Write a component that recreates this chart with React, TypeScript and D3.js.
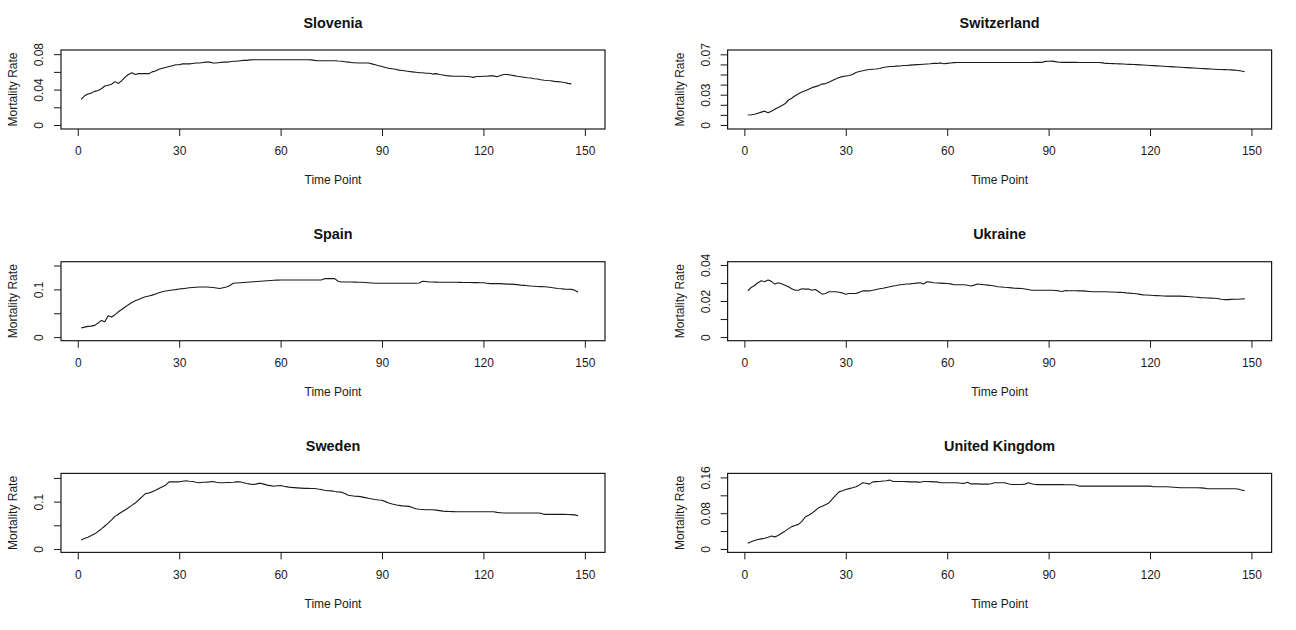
import React, { useEffect, useRef } from 'react';
import * as d3 from 'd3';

const countries = ['Slovenia', 'Switzerland', 'Spain', 'Ukraine', 'Sweden', 'United Kingdom'];

const timeTicks = [0, 30, 60, 90, 120, 150];

const slovenia = [
  0.029, 0.033, 0.035, 0.036, 0.038, 0.039, 0.041, 0.044, 0.045, 0.046,
  0.049, 0.047, 0.05, 0.054, 0.057, 0.059, 0.057, 0.058, 0.058, 0.058,
  0.058, 0.06, 0.061, 0.063, 0.064, 0.065, 0.066, 0.067, 0.068, 0.068,
  0.069, 0.069, 0.069, 0.0695, 0.07, 0.07, 0.0705, 0.071, 0.071, 0.07,
  0.07, 0.0705, 0.071, 0.071, 0.0715, 0.072, 0.072, 0.0725, 0.073, 0.073,
  0.0735, 0.0737, 0.0737, 0.0737, 0.0737, 0.0737, 0.0737, 0.0737, 0.0737, 0.0737,
  0.0737, 0.0737, 0.0737, 0.0737, 0.0737, 0.0737, 0.0737, 0.0737, 0.0735, 0.073,
  0.0725, 0.0725, 0.0725, 0.0725, 0.0725, 0.0725, 0.0722, 0.072, 0.0715, 0.071,
  0.0705, 0.0703, 0.07, 0.07, 0.07, 0.07, 0.069, 0.068, 0.067, 0.066,
  0.065, 0.064, 0.0635, 0.063, 0.062, 0.0615, 0.061, 0.0605, 0.06, 0.0595,
  0.059, 0.059, 0.0585, 0.0585, 0.0575, 0.058, 0.057, 0.0565, 0.0558, 0.0555,
  0.055, 0.055, 0.055, 0.055, 0.0548, 0.0545, 0.0538, 0.0548, 0.0547, 0.055,
  0.055, 0.0555, 0.0555, 0.0545, 0.056, 0.057, 0.057, 0.0565, 0.0558, 0.055,
  0.0545, 0.054, 0.0533, 0.053, 0.0523, 0.052, 0.0512, 0.0505, 0.0502, 0.05,
  0.0493, 0.049, 0.0485, 0.048, 0.047, 0.0465,
];

const switzerland = [
  0.0098, 0.0102, 0.0107, 0.0117, 0.0127, 0.0137, 0.012, 0.0137, 0.0155, 0.0173,
  0.019, 0.021, 0.0245, 0.0265, 0.029, 0.031, 0.0326, 0.034, 0.0355, 0.037,
  0.038, 0.039, 0.0405, 0.041, 0.0423, 0.044, 0.0456, 0.047, 0.0479, 0.0485,
  0.049, 0.05, 0.052, 0.053, 0.0537, 0.0545, 0.055, 0.0552, 0.0554, 0.056,
  0.057, 0.0575, 0.058, 0.058, 0.0583, 0.0585, 0.059, 0.059, 0.0593, 0.0596,
  0.0598, 0.06, 0.0602, 0.0604, 0.0606, 0.061, 0.061, 0.0615, 0.0606, 0.061,
  0.0614, 0.0618, 0.0619, 0.0619, 0.0619, 0.0619, 0.0619, 0.0619, 0.0619, 0.0619,
  0.0619, 0.0619, 0.0619, 0.0619, 0.0619, 0.0619, 0.0619, 0.0619, 0.0619, 0.0619,
  0.0619, 0.0619, 0.0619, 0.0619, 0.0619, 0.062, 0.062, 0.062, 0.063, 0.0632,
  0.0633, 0.0628, 0.0622, 0.062, 0.062, 0.062, 0.062, 0.062, 0.0619, 0.0619,
  0.0619, 0.0619, 0.0619, 0.0619, 0.0619, 0.0615, 0.061, 0.0609, 0.0608, 0.0606,
  0.0605, 0.0604, 0.0602, 0.0601, 0.06, 0.0598, 0.0596, 0.0594, 0.0592, 0.059,
  0.0588, 0.0586, 0.0584, 0.0582, 0.058, 0.0578, 0.0576, 0.0574, 0.0572, 0.057,
  0.0568, 0.0566, 0.0564, 0.0562, 0.056, 0.0558, 0.0556, 0.0554, 0.0552, 0.055,
  0.0549, 0.0548, 0.0547, 0.0546, 0.0544, 0.054, 0.0535, 0.0528,
];

const spain = [
  0.019, 0.021, 0.0225, 0.023, 0.0246, 0.0296, 0.035, 0.032, 0.045, 0.042,
  0.047, 0.053, 0.058, 0.063, 0.068, 0.0725, 0.076, 0.079, 0.082, 0.0845,
  0.086, 0.088, 0.0905, 0.093, 0.095, 0.0965, 0.0975, 0.0986, 0.0995, 0.1007,
  0.1015, 0.1025, 0.1035, 0.104, 0.1045, 0.105, 0.105, 0.105, 0.1045, 0.104,
  0.103, 0.102, 0.1035, 0.105, 0.108, 0.1127, 0.1135, 0.114, 0.1145, 0.115,
  0.1155, 0.116, 0.1165, 0.117, 0.1176, 0.118, 0.1185, 0.119, 0.1193, 0.1197,
  0.1197, 0.1197, 0.1197, 0.1197, 0.1197, 0.1197, 0.1197, 0.1197, 0.1197, 0.1197,
  0.1197, 0.1197, 0.1225, 0.1225, 0.1225, 0.1225, 0.117, 0.1155, 0.1155, 0.1155,
  0.1155, 0.1153, 0.115, 0.1148, 0.1145, 0.114, 0.1135, 0.1127, 0.1127, 0.1127,
  0.1127, 0.1127, 0.1127, 0.1127, 0.1127, 0.1127, 0.1127, 0.1127, 0.1127, 0.1127,
  0.1135, 0.117, 0.1165, 0.1155, 0.1155, 0.1153, 0.115, 0.115, 0.115, 0.115,
  0.115, 0.1148, 0.1146, 0.1145, 0.1144, 0.1143, 0.1142, 0.1141, 0.114, 0.114,
  0.113, 0.112, 0.112, 0.112, 0.112, 0.1115, 0.111, 0.111, 0.1105, 0.11,
  0.109, 0.1085, 0.1077, 0.107, 0.1065, 0.106, 0.1058, 0.1056, 0.105, 0.104,
  0.103, 0.102, 0.1014, 0.1005, 0.1002, 0.1, 0.098, 0.094,
];

const ukraine = [
  0.0256, 0.0275, 0.0286, 0.0301, 0.0312, 0.0307, 0.0316, 0.0309, 0.0294, 0.0301,
  0.0296, 0.0288, 0.0279, 0.0268, 0.026, 0.026, 0.0268, 0.0266, 0.0267, 0.026,
  0.0264, 0.0251, 0.0238, 0.0242, 0.0251, 0.0251, 0.0251, 0.0249, 0.0245, 0.0238,
  0.0242, 0.0242, 0.0242, 0.0248, 0.0256, 0.0256, 0.0256, 0.026, 0.0264, 0.0268,
  0.0271, 0.0275, 0.0279, 0.0283, 0.0286, 0.029, 0.0292, 0.0294, 0.0295, 0.0297,
  0.0299, 0.0301, 0.0294, 0.0307, 0.0305, 0.0301, 0.03, 0.0299, 0.0298, 0.0297,
  0.0295, 0.029, 0.029, 0.029, 0.029, 0.0287, 0.0283, 0.0288, 0.0294, 0.0292,
  0.029, 0.0288, 0.0286, 0.0283, 0.0279, 0.0278, 0.0276, 0.0275, 0.0273, 0.0271,
  0.027, 0.0269, 0.0267, 0.0264, 0.026, 0.026, 0.026, 0.026, 0.026, 0.026,
  0.026, 0.0258, 0.0256, 0.0253, 0.0258, 0.0257, 0.0257, 0.0257, 0.0256, 0.0256,
  0.0255, 0.0253, 0.0251, 0.0251, 0.0251, 0.0251, 0.0251, 0.025, 0.025, 0.0249,
  0.0248, 0.0247, 0.0245, 0.0244, 0.0242, 0.024, 0.0237, 0.0234, 0.0233, 0.0232,
  0.0231, 0.023, 0.0229, 0.0228, 0.0227, 0.0227, 0.0227, 0.0227, 0.0227, 0.0226,
  0.0225, 0.0224, 0.0222, 0.0221, 0.0219, 0.0218, 0.0217, 0.0216, 0.0215, 0.0214,
  0.021, 0.0208, 0.0208, 0.0209, 0.021, 0.021, 0.0211, 0.0212,
];

const sweden = [
  0.019, 0.022, 0.025, 0.0285, 0.032, 0.037, 0.0426, 0.0486, 0.0546, 0.0615,
  0.0688, 0.0735, 0.078, 0.0825, 0.087, 0.092, 0.097, 0.1035, 0.11, 0.117,
  0.118, 0.1206, 0.124, 0.1277, 0.1312, 0.1348, 0.1418, 0.1418, 0.1418, 0.1418,
  0.143, 0.144, 0.143, 0.1426, 0.141, 0.1397, 0.141, 0.1412, 0.1418, 0.1426,
  0.141, 0.1397, 0.14, 0.1404, 0.1404, 0.141, 0.1418, 0.1418, 0.14, 0.1383,
  0.137, 0.136, 0.1375, 0.139, 0.137, 0.1348, 0.1337, 0.1326, 0.1335, 0.134,
  0.1325, 0.1312, 0.13, 0.1295, 0.129, 0.1285, 0.128, 0.128, 0.1277, 0.1277,
  0.1265, 0.1255, 0.124, 0.123, 0.1227, 0.1215, 0.1205, 0.12, 0.117, 0.1135,
  0.1125, 0.1115, 0.111, 0.11, 0.1085, 0.107, 0.1057, 0.1045, 0.1035, 0.1028,
  0.1, 0.097, 0.095, 0.0935, 0.092, 0.091, 0.0905, 0.09, 0.0875, 0.085,
  0.084, 0.0835, 0.083, 0.083, 0.083, 0.082, 0.081, 0.08, 0.0795, 0.079,
  0.0788, 0.0787, 0.0787, 0.0787, 0.0787, 0.0787, 0.0787, 0.0787, 0.0787, 0.0787,
  0.0787, 0.0787, 0.0785, 0.0773, 0.0766, 0.0759, 0.0759, 0.0759, 0.0759, 0.0759,
  0.0759, 0.0759, 0.0759, 0.0759, 0.0759, 0.0759, 0.0755, 0.073, 0.073, 0.073,
  0.073, 0.073, 0.073, 0.073, 0.0728, 0.0725, 0.072, 0.07,
];

const unitedKingdom = [
  0.0128, 0.016, 0.0188, 0.021, 0.0225, 0.024, 0.0263, 0.029, 0.027, 0.03,
  0.035, 0.0398, 0.045, 0.05, 0.0525, 0.055, 0.0616, 0.0714, 0.0755, 0.08,
  0.086, 0.0924, 0.0954, 0.099, 0.103, 0.1115, 0.12, 0.1277, 0.13, 0.133,
  0.135, 0.1368, 0.139, 0.1428, 0.148, 0.147, 0.145, 0.15, 0.1505, 0.151,
  0.152, 0.1526, 0.154, 0.151, 0.151, 0.151, 0.151, 0.1505, 0.15, 0.15,
  0.15, 0.149, 0.151, 0.151, 0.1505, 0.15, 0.15, 0.148, 0.148, 0.148,
  0.148, 0.148, 0.148, 0.147, 0.1466, 0.149, 0.1455, 0.1455, 0.1455, 0.145,
  0.145, 0.145, 0.146, 0.148, 0.148, 0.148, 0.148, 0.146, 0.1443, 0.1443,
  0.1443, 0.1443, 0.145, 0.148, 0.146, 0.1443, 0.144, 0.144, 0.144, 0.144,
  0.144, 0.144, 0.144, 0.144, 0.1436, 0.1436, 0.1436, 0.143, 0.1406, 0.1406,
  0.1406, 0.1406, 0.1406, 0.1406, 0.1406, 0.1406, 0.1406, 0.1406, 0.1406, 0.1406,
  0.1406, 0.1406, 0.1406, 0.1406, 0.1406, 0.1406, 0.1406, 0.1406, 0.1406, 0.1406,
  0.139, 0.139, 0.139, 0.139, 0.139, 0.1385, 0.138, 0.1375, 0.1368, 0.1368,
  0.1368, 0.1368, 0.1368, 0.1368, 0.1366, 0.136, 0.1346, 0.1346, 0.1346, 0.1346,
  0.1346, 0.1346, 0.1346, 0.1346, 0.1346, 0.134, 0.132, 0.13,
];

const seriesList = [slovenia, switzerland, spain, ukraine, sweden, unitedKingdom];

// y tick values and the labels R kept (blank = tick only)
const yTickValues = [
  [0, 0.02, 0.04, 0.06, 0.08],
  [0, 0.01, 0.02, 0.03, 0.04, 0.05, 0.06, 0.07],
  [0, 0.05, 0.1, 0.15],
  [0, 0.01, 0.02, 0.03, 0.04],
  [0, 0.05, 0.1, 0.15],
  [0, 0.04, 0.08, 0.12, 0.16],
];
const yTickLabels = [
  ['0', '', '0.04', '', '0.08'],
  ['0', '', '', '0.03', '', '', '', '0.07'],
  ['0', '', '0.1', ''],
  ['0', '', '0.02', '', '0.04'],
  ['0', '', '0.1', ''],
  ['0', '', '0.08', '', '0.16'],
];
const yDomains = [
  [-0.0045, 0.0847],
  [-0.004, 0.0743],
  [-0.0075, 0.158],
  [-0.002, 0.0418],
  [-0.0072, 0.1596],
  [-0.0077, 0.169],
];

const W = 1296;
const H = 630;
const FONT = '"Liberation Sans", Arial, sans-serif';
const INK = '#1a1a1a';

export default function App() {
  const ref = useRef(null);

  useEffect(() => {
    if (!ref.current) return;
    const svg = d3.select(ref.current);
    svg.selectAll('*').remove();

    const colLeft = [61, 727.6];
    const boxW = 544;
    const boxH = 79;
    const rowTop = (r: number) => 50 + r * 211.7;

    countries.forEach((name, i) => {
      const col = i % 2;
      const row = Math.floor(i / 2);
      const left = colLeft[col];
      const top = rowTop(row);

      const x = d3.scaleLinear().domain([1 - 5.96, 150 + 5.96]).range([0, boxW]);
      const y = d3.scaleLinear().domain(yDomains[i]).range([boxH, 0]);

      const g = svg.append('g').attr('transform', `translate(${left},${top})`);

      // x axis
      const xg = g
        .append('g')
        .attr('transform', `translate(0,${boxH})`)
        .call(d3.axisBottom(x).tickValues(timeTicks).tickSize(7).tickFormat(d3.format('d')))
        .call((a) => a.select('.domain').remove());
      xg.selectAll('.tick line').attr('stroke', INK);
      xg.selectAll('.tick text')
        .attr('y', 22)
        .attr('dy', '0.35em')
        .attr('fill', INK)
        .style('font', `12px ${FONT}`);

      // y axis
      const labels = yTickLabels[i];
      const yg = g
        .append('g')
        .call(
          d3
            .axisLeft(y)
            .tickValues(yTickValues[i])
            .tickSize(7)
            .tickFormat((_d, k) => labels[k])
        )
        .call((a) => a.select('.domain').remove());
      yg.selectAll('.tick line').attr('stroke', INK);
      yg.selectAll('.tick text')
        .attr('x', 0)
        .attr('dy', '0.35em')
        .attr('text-anchor', 'middle')
        .attr('transform', 'translate(-22,0) rotate(-90)')
        .attr('fill', INK)
        .style('font', `12px ${FONT}`);

      // series line
      const line = d3
        .line<number>()
        .x((_d, k) => x(k + 1))
        .y((d) => y(d));
      g.append('path')
        .datum(seriesList[i])
        .attr('d', line)
        .attr('fill', 'none')
        .attr('stroke', INK)
        .attr('stroke-width', 1.1)
        .attr('stroke-linejoin', 'round');

      // box
      g.append('rect')
        .attr('x', 0)
        .attr('y', 0)
        .attr('width', boxW)
        .attr('height', boxH)
        .attr('fill', 'none')
        .attr('stroke', INK)
        .attr('stroke-width', 1.2);

      // title
      g.append('text')
        .text(name)
        .attr('x', boxW / 2)
        .attr('y', -27.5)
        .attr('dy', '0.35em')
        .attr('text-anchor', 'middle')
        .attr('fill', '#111')
        .style('font', `bold 14.4px ${FONT}`);

      // axis titles
      g.append('text')
        .text('Time Point')
        .attr('x', boxW / 2)
        .attr('y', boxH + 51)
        .attr('dy', '0.35em')
        .attr('text-anchor', 'middle')
        .attr('fill', INK)
        .style('font', `12px ${FONT}`);

      g.append('text')
        .text('Mortality Rate')
        .attr('dy', '0.35em')
        .attr('text-anchor', 'middle')
        .attr('transform', `translate(-48,${boxH / 2}) rotate(-90)`)
        .attr('fill', INK)
        .style('font', `12px ${FONT}`);
    });
  }, []);

  return (
    <svg
      ref={ref}
      width={W}
      height={H}
      style={{ position: 'absolute', left: 0, top: 0, background: '#fff' }}
    />
  );
}
